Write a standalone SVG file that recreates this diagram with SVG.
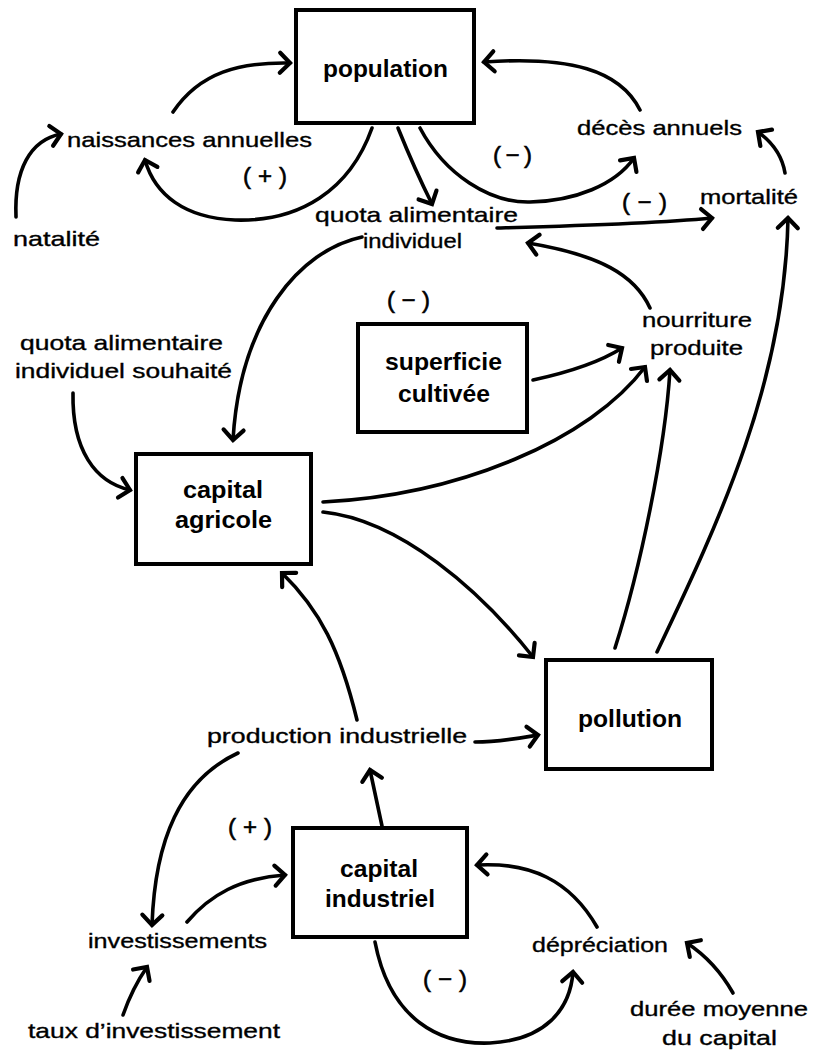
<svg xmlns="http://www.w3.org/2000/svg" width="813" height="1053" viewBox="0 0 813 1053">
  <style>
    .box { fill: #fff; stroke: #000; stroke-width: 4; }
    .lbl { font-family: "Liberation Sans", Arial, sans-serif; font-size: 21px; fill: #000; stroke: #000; stroke-width: 0.35px; }
    .node { font-family: "Liberation Sans", Arial, sans-serif; font-size: 24px; font-weight: bold; fill: #000; }
    .sign { font-family: "Liberation Sans", Arial, sans-serif; font-size: 24px; fill: #000; stroke: #000; stroke-width: 0.6px; }
    .link { fill: none; stroke: #000; stroke-width: 3.6; stroke-linecap: round; marker-end: url(#ah); }
  </style>
  <defs>
    <marker id="ah" viewBox="-14 -14 18 28" refX="0" refY="0" markerWidth="18" markerHeight="28" markerUnits="userSpaceOnUse" orient="auto" overflow="visible">
      <path d="M-10,-10 L0,0 L-10,10" fill="none" stroke="#000" stroke-width="4.2" stroke-linecap="round" stroke-linejoin="miter"/>
    </marker>
  </defs>
  <rect width="813" height="1053" fill="#fff"/>

  <!-- stocks (boxed nodes) -->
  <g id="population">
    <rect class="box" x="296" y="10" width="178" height="113"/>
    <text class="node" x="323" y="77" textLength="125" lengthAdjust="spacingAndGlyphs">population</text>
  </g>
  <g id="superficie-cultivee">
    <rect class="box" x="358" y="324" width="169" height="108"/>
    <text class="node" x="385" y="370" textLength="117" lengthAdjust="spacingAndGlyphs">superficie</text>
    <text class="node" x="398" y="402" textLength="92" lengthAdjust="spacingAndGlyphs">cultivée</text>
  </g>
  <g id="capital-agricole">
    <rect class="box" x="136" y="454" width="175" height="110"/>
    <text class="node" x="183" y="498" textLength="80" lengthAdjust="spacingAndGlyphs">capital</text>
    <text class="node" x="175" y="528" textLength="97" lengthAdjust="spacingAndGlyphs">agricole</text>
  </g>
  <g id="pollution">
    <rect class="box" x="546" y="660" width="166" height="109"/>
    <text class="node" x="578" y="727" textLength="104" lengthAdjust="spacingAndGlyphs">pollution</text>
  </g>
  <g id="capital-industriel">
    <rect class="box" x="293" y="828" width="174" height="109"/>
    <text class="node" x="340" y="877" textLength="78" lengthAdjust="spacingAndGlyphs">capital</text>
    <text class="node" x="325" y="907" textLength="110" lengthAdjust="spacingAndGlyphs">industriel</text>
  </g>

  <!-- flows and auxiliary variables -->
  <g id="naissances-annuelles">
    <text class="lbl" x="67" y="147" textLength="245" lengthAdjust="spacingAndGlyphs">naissances  annuelles</text>
  </g>
  <g id="natalite">
    <text class="lbl" x="13" y="246" textLength="87" lengthAdjust="spacingAndGlyphs">natalité</text>
  </g>
  <g id="deces-annuels">
    <text class="lbl" x="577" y="135" textLength="165" lengthAdjust="spacingAndGlyphs">décès  annuels</text>
  </g>
  <g id="mortalite">
    <text class="lbl" x="700" y="204" textLength="98" lengthAdjust="spacingAndGlyphs">mortalité</text>
  </g>
  <g id="quota-alimentaire-individuel">
    <text class="lbl" x="315" y="222" textLength="203" lengthAdjust="spacingAndGlyphs">quota  alimentaire</text>
    <text class="lbl" x="363" y="248" textLength="99" lengthAdjust="spacingAndGlyphs">individuel</text>
  </g>
  <g id="quota-souhaite">
    <text class="lbl" x="20" y="350" textLength="203" lengthAdjust="spacingAndGlyphs">quota  alimentaire</text>
    <text class="lbl" x="15" y="378" textLength="217" lengthAdjust="spacingAndGlyphs">individuel  souhaité</text>
  </g>
  <g id="nourriture-produite">
    <text class="lbl" x="642" y="327" textLength="110" lengthAdjust="spacingAndGlyphs">nourriture</text>
    <text class="lbl" x="650" y="355" textLength="93" lengthAdjust="spacingAndGlyphs">produite</text>
  </g>
  <g id="production-industrielle">
    <text class="lbl" x="207" y="743" textLength="260" lengthAdjust="spacingAndGlyphs">production  industrielle</text>
  </g>
  <g id="investissements">
    <text class="lbl" x="88" y="948" textLength="179" lengthAdjust="spacingAndGlyphs">investissements</text>
  </g>
  <g id="taux-investissement">
    <text class="lbl" x="28" y="1038" textLength="252" lengthAdjust="spacingAndGlyphs">taux  d’investissement</text>
  </g>
  <g id="depreciation">
    <text class="lbl" x="532" y="952" textLength="136" lengthAdjust="spacingAndGlyphs">dépréciation</text>
  </g>
  <g id="duree-moyenne">
    <text class="lbl" x="630" y="1016" textLength="178" lengthAdjust="spacingAndGlyphs">durée  moyenne</text>
    <text class="lbl" x="662" y="1045" textLength="115" lengthAdjust="spacingAndGlyphs">du  capital</text>
  </g>

  <!-- loop polarity signs -->
  <g id="signs">
    <text class="sign" x="243" y="184" textLength="44" lengthAdjust="spacing">(+)</text>
    <text class="sign" x="493" y="163" textLength="39" lengthAdjust="spacing">(−)</text>
    <text class="sign" x="622" y="210" textLength="45" lengthAdjust="spacing">(−)</text>
    <text class="sign" x="387" y="308" textLength="43" lengthAdjust="spacing">(−)</text>
    <text class="sign" x="228" y="835" textLength="44" lengthAdjust="spacing">(+)</text>
    <text class="sign" x="423" y="987" textLength="44" lengthAdjust="spacing">(−)</text>
  </g>

  <!-- causal links -->
  <g id="connectors">
    <path class="link" d="M16,217 C14,170 30,140 61,134"/>
    <path class="link" d="M173,112 C200,72 240,62 290,63"/>
    <path class="link" d="M372,128 C350,190 300,222 235,220 C185,218 155,195 145,160"/>
    <path class="link" d="M398,128 Q415,170 432,204"/>
    <path class="link" d="M420,128 C445,175 490,203 530,202 C575,201 615,185 634,158"/>
    <path class="link" d="M640,110 C620,70 570,56 484,62"/>
    <path class="link" d="M785,173 C782,155 772,142 758,132"/>
    <path class="link" d="M497,228 C570,226 650,224 712,218"/>
    <path class="link" d="M650,308 C635,275 600,255 528,243"/>
    <path class="link" d="M362,237 C300,250 240,320 233,440"/>
    <path class="link" d="M73,393 C72,450 95,482 130,490"/>
    <path class="link" d="M533,380 C570,372 600,362 622,348"/>
    <path class="link" d="M323,502 C460,495 590,440 645,367"/>
    <path class="link" d="M323,512 C400,520 480,590 533,657"/>
    <path class="link" d="M615,648 C640,570 665,450 670,370"/>
    <path class="link" d="M657,652 C720,520 785,380 788,218"/>
    <path class="link" d="M357,720 C340,650 320,610 282,573"/>
    <path class="link" d="M475,742 C500,742 520,738 538,735"/>
    <path class="link" d="M382,826 L370,770"/>
    <path class="link" d="M238,753 C180,780 155,840 152,925"/>
    <path class="link" d="M187,922 C210,895 240,878 285,875"/>
    <path class="link" d="M123,1015 C130,995 138,980 147,967"/>
    <path class="link" d="M375,942 C390,1020 440,1045 490,1043 C545,1040 570,1010 573,972"/>
    <path class="link" d="M597,927 C570,880 530,862 477,865"/>
    <path class="link" d="M733,993 C720,970 705,955 687,943"/>
  </g>
</svg>
